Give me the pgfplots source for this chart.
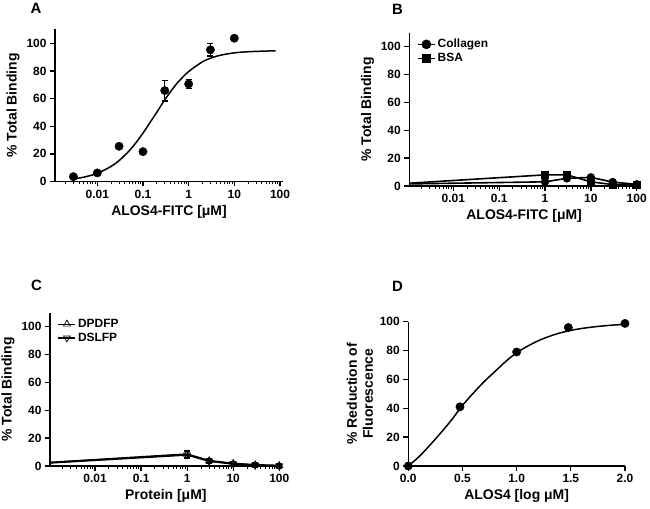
\documentclass[border=0pt]{standalone}
\usepackage{pgfplots}
\pgfplotsset{compat=1.18}
\usepackage{fontspec}
\setmainfont{Liberation Sans}
\begin{document}
\begin{tikzpicture}
\useasboundingbox (0,0) rectangle (650bp,509bp);
\pgfplotsset{
  every axis/.append style={
    scale only axis,
    anchor=south west,
    clip=false,
    axis x line*=bottom,
    axis y line*=left,
    axis line style={line width=1.6bp,-},
    tick align=outside,
    major tick length=5bp,
    minor tick length=3bp,
    every tick/.style={line width=1.3bp,black},
    minor tick style={line width=1bp,black},
    /pgf/number format/assume math mode=true,
    tick label style={font=\bfseries\fontsize{12}{13}\selectfont},
    every axis x label/.append style={font=\bfseries\fontsize{14}{16}\selectfont},
    every axis y label/.append style={font=\bfseries\fontsize{14}{16}\selectfont},
    legend style={draw=none,fill=none,font=\bfseries\fontsize{12}{13}\selectfont,
      row sep=0bp,anchor=north west},
    legend cell align=left,
  },
  mylog/.style={
    xtick={0.01,0.1,1,10,100},
    xticklabels={0.01,0.1,1,10,100},
    minor xtick={0.002,0.003,0.004,0.005,0.006,0.007,0.008,0.009,
      0.02,0.03,0.04,0.05,0.06,0.07,0.08,0.09,
      0.2,0.3,0.4,0.5,0.6,0.7,0.8,0.9,
      2,3,4,5,6,7,8,9,20,30,40,50,60,70,80,90},
    ymin=0,ymax=110,
    ytick={0,20,40,60,80,100},
    ylabel={\% Total Binding},
  },
}
% ---------- A ----------
\begin{axis}[xmode=log, mylog, at={(55bp,327.5bp)}, width=228bp, height=152bp,
  xmin=0.001186, xmax=116.4,
  xlabel={ALOS4-FITC [μM]}]
\addplot[black, line width=1.5bp, smooth] coordinates {
(0.003,1.9)(0.005,3.1)(0.01,5.9)(0.02,10.9)(0.03,15.1)(0.05,22.2)(0.07,28.0)
(0.1,35.0)(0.15,43.8)(0.2,50.0)(0.3,59.1)(0.5,69.2)(0.7,74.6)(1,79.6)
(2,86.6)(3,89.2)(5,91.4)(10,93.1)(20,93.9)(50,94.4)(80,94.5)};
\addplot[only marks, mark=*, mark size=4.2bp, black,
  error bars/.cd, y dir=both, y explicit,
  error bar style={line width=1.2bp,black},
  error mark options={rotate=90,mark size=3bp,line width=1.2bp,black}]
coordinates {
(0.003,3.5) +- (0,1)
(0.01,6.2) +- (0,1)
(0.03,25.5) +- (0,1)
(0.1,21.6) +- (0,1)
(0.3,65.8) +- (0,7.5)
(1,70.6) +- (0,3.5)
(3,95.3) +- (0,4.5)
(10,103.7) +- (0,1)
};
\end{axis}
% ---------- B ----------
\begin{axis}[xmode=log, mylog, at={(409.3bp,323bp)}, width=229.7bp, height=153.2bp,
  xmin=0.001096, xmax=112.2,
  xlabel={ALOS4-FITC [μM]},
  legend style={at={(axis description cs:0.02,0.985)}}]
\addlegendimage{black, line width=1.6bp, mark=*, mark size=4bp}
\addlegendentry{Collagen}
\addlegendimage{black, line width=1.6bp, mark=square*, mark size=3.6bp}
\addlegendentry{BSA}
\addplot[black, line width=1.6bp] coordinates {
(0.001096,1.5)(1,3)(3,5.5)(10,6.2)(30,2.8)(100,1.2)};
\addplot[black, line width=1.6bp] coordinates {
(0.001096,2)(1,8)(3,8)(10,3)(30,1)(100,1.2)};
\addplot[only marks, mark=*, mark size=4bp, black,
  error bars/.cd, y dir=both, y explicit,
  error bar style={line width=1.2bp,black},
  error mark options={rotate=90,mark size=3bp,line width=1.2bp,black}]
coordinates {(1,3)+-(0,2.5)(3,5.5)+-(0,1)(10,6.2)+-(0,1)(30,2.8)+-(0,1)(100,1.2)+-(0,0.5)};
\addplot[only marks, mark=square*, mark size=3.6bp, black,
  error bars/.cd, y dir=both, y explicit,
  error bar style={line width=1.2bp,black},
  error mark options={rotate=90,mark size=3bp,line width=1.2bp,black}]
coordinates {(1,8)+-(0,1.5)(3,8)+-(0,1)(10,3)+-(0,1)(30,1)+-(0,0.5)(100,1.2)+-(0,0.5)};
\end{axis}
% ---------- C ----------
\begin{axis}[xmode=log, mylog, at={(50bp,43bp)}, width=231.7bp, height=153.2bp,
  xmin=0.001054, xmax=112.7,
  xlabel={Protein [μM]},
  legend style={at={(axis description cs:0.02,0.985)}}]
\addlegendimage{black, line width=1.2bp, mark=triangle, mark size=4bp, mark options={line width=0.7bp}}
\addlegendentry{DPDFP}
\addlegendimage{black, line width=1.2bp, mark=triangle, mark size=4bp, mark options={rotate=180,line width=0.7bp}}
\addlegendentry{DSLFP}
\addplot[black, line width=1.8bp] coordinates {
(0.001054,2.5)(1,8.5)(3,3.8)(10,1.8)(30,0.8)(100,0.3)};
\addplot[black, line width=1.8bp] coordinates {
(0.001054,2.3)(1,8)(3,3.5)(10,1.5)(30,0.5)(100,0)};
\addplot[only marks, mark=triangle, mark size=4bp, black, mark options={fill=white,line width=0.7bp},
  error bars/.cd, y dir=both, y explicit,
  error bar style={line width=0.8bp,black},
  error mark options={rotate=90,mark size=3bp,line width=0.8bp,black}]
coordinates {(1,8.5)+-(0,2.5)(3,3.8)+-(0,1.5)(10,1.8)+-(0,1.5)(30,0.8)+-(0,1.5)(100,0.3)+-(0,1.5)};
\addplot[only marks, mark=triangle, mark size=4bp, black, mark options={rotate=180,fill=white,line width=0.7bp},
  error bars/.cd, y dir=both, y explicit,
  error bar style={line width=0.8bp,black},
  error mark options={rotate=90,mark size=3bp,line width=0.8bp,black}]
coordinates {(1,8)+-(0,2.5)(3,3.5)+-(0,1.5)(10,1.5)+-(0,1.5)(30,0.5)+-(0,1.5)(100,0)+-(0,1.5)};
\end{axis}
% ---------- D ----------
\begin{axis}[at={(408.3bp,43bp)}, width=216.7bp, height=144.3bp,
  xmin=0, xmax=2, ymin=0, ymax=100,
  xtick={0,0.5,1,1.5,2}, xticklabels={0.0,0.5,1.0,1.5,2.0},
  ytick={0,20,40,60,80,100},
  xlabel={ALOS4 [log μM]},
  ylabel={\% Reduction of\\Fluorescence},
  ylabel style={align=center}]
\addplot[black, line width=1.5bp, smooth] coordinates {
(0,0)(0.1,6.5)(0.2,14.5)(0.3,23)(0.4,32)(0.5,42)(0.6,50.5)(0.7,58.5)
(0.8,65.5)(0.9,72.5)(1.0,78.5)(1.1,83)(1.2,86.8)(1.3,89.8)(1.4,92.2)
(1.5,94)(1.6,95.3)(1.7,96.3)(1.8,97.1)(1.9,97.7)(2.0,98.2)};
\addplot[only marks, mark=*, mark size=4.2bp, black] coordinates {
(0,0)(0.477,41)(1,79)(1.477,96)(2,98.8)};
\end{axis}
% ---------- panel letters ----------
\node[font=\bfseries\fontsize{15}{16}\selectfont] at (36bp,500.5bp) {A};
\node[font=\bfseries\fontsize{15}{16}\selectfont] at (397.5bp,500bp) {B};
\node[font=\bfseries\fontsize{15}{16}\selectfont] at (36.5bp,224bp) {C};
\node[font=\bfseries\fontsize{15}{16}\selectfont] at (397.5bp,223bp) {D};
\end{tikzpicture}
\end{document}
